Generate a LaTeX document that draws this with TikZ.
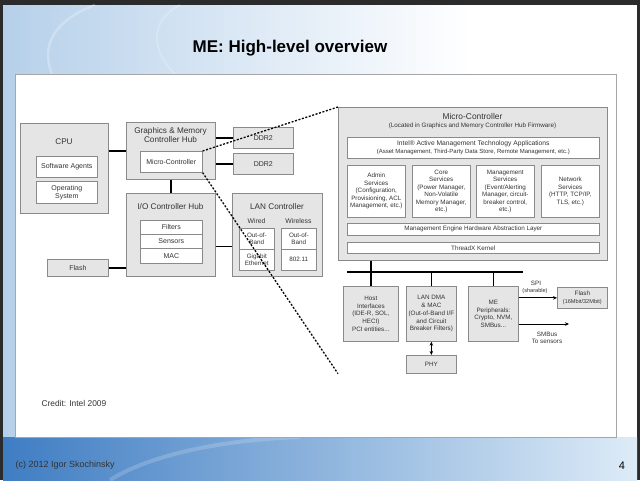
\documentclass[tikz,border=0pt]{standalone}
\usepackage{fontspec}
\setmainfont{Liberation Sans}
\usetikzlibrary{arrows.meta,calc}
\definecolor{frameDk}{HTML}{2B2B2B}
\definecolor{skyA}{HTML}{B6D0EA}
\definecolor{seaA}{HTML}{3F7DC3}
\definecolor{seaM}{HTML}{7FAEDD}
\definecolor{seaB}{HTML}{DDEBF7}
\definecolor{boxFill}{HTML}{E5E5E5}
\definecolor{boxLine}{HTML}{8A8A8A}
\definecolor{inkGray}{HTML}{333333}

\begin{document}
\begin{tikzpicture}[
    x=1pt, y=-1pt,
    >={Stealth[length=4pt,width=3.5pt]},
    blk/.style={draw=boxLine, fill=boxFill, line width=0.7pt, inner sep=0pt,
      anchor=north west, align=center, text=inkGray, font=\fontsize{7}{8}\selectfont},
    sblk/.style={blk, font=\fontsize{6.3}{7.8}\selectfont},
    cell/.style={draw=boxLine, fill=white, line width=0.6pt, inner sep=0pt,
      anchor=north west, align=center, text=inkGray, font=\fontsize{7}{8.2}\selectfont},
    scell/.style={cell, font=\fontsize{6.3}{7.5}\selectfont},
    hd/.style={text=inkGray, inner sep=0pt, align=center, font=\fontsize{8.2}{8.8}\selectfont},
    lbl/.style={text=inkGray, inner sep=0pt, align=center, font=\fontsize{6.3}{7.4}\selectfont},
    link/.style={line width=1.6pt, black},
    bus/.style={line width=1.4pt, black},
    arr/.style={line width=0.8pt, black},
    zoomln/.style={line width=1.3pt, black, dash pattern=on 2pt off 1.6pt},
]
% slide background
\fill[frameDk] (0,0) rectangle (640,480);
\shade[left color=skyA, right color=white] (3,5) rectangle (470,480);
\fill[white] (470,5) rectangle (637,480);
\draw[white, opacity=0.25, line width=2.5pt] (52,74) .. controls (40,45) and (55,20) .. (95,5);
\draw[white, opacity=0.2, line width=2pt] (175,74) .. controls (150,50) and (150,20) .. (180,5);
\shade[left color=seaA, middle color=seaM, right color=seaB] (3,437) rectangle (637,480);
\draw[white, opacity=0.18, line width=4pt] (110,480) .. controls (150,455) and (220,440) .. (300,437);
\draw[draw=black!35, fill=white, line width=0.8pt] (15,74) rectangle (616,437);

\node[font=\bfseries\fontsize{17}{20}\selectfont] (title) at (290,48) {ME: High-level overview};

% host side
\node[blk, minimum width=88, minimum height=90] (cpu) at (20,123) {};
\node[hd] (cpuT) at (64,142) {CPU};
\node[cell, minimum width=61, minimum height=21] (swag) at (36,156) {Software Agents};
\node[cell, minimum width=61, minimum height=22] (os) at (36,181) {Operating\\System};

\node[blk, minimum width=89, minimum height=57] (gmch) at (126,122) {};
\node[hd] (gmchT) at (170.5,135) {Graphics \& Memory\\Controller Hub};
\node[cell, minimum width=62, minimum height=21] (mc) at (140,151) {Micro-Controller};

\node[blk, minimum width=60, minimum height=21] (ddrA) at (233,127) {DDR2};
\node[blk, minimum width=60, minimum height=21] (ddrB) at (233,153) {DDR2};

\node[blk, minimum width=89, minimum height=83] (ioh) at (126,193) {};
\node[hd] (iohT) at (170.5,207) {I/O Controller Hub};
\foreach \nm/\t/\y/\h in {filt/Filters/220/14, sens/Sensors/234/14, mac/MAC/248/15}
  \node[cell, minimum width=62, minimum height=\h] (\nm) at (140,\y) {\t};

\node[blk, minimum width=61, minimum height=17] (flashL) at (47,259) {Flash};

\node[blk, minimum width=90, minimum height=83] (lan) at (232,193) {};
\node[hd] (lanT) at (277,207) {LAN Controller};
\node[lbl, font=\fontsize{6.8}{8}\selectfont] (wired) at (256.5,221) {Wired};
\node[lbl, font=\fontsize{6.8}{8}\selectfont] (wless) at (298.5,221) {Wireless};
\node[scell, minimum width=35, minimum height=21] (wob) at (239,228) {Out-of-\\Band};
\node[scell, minimum width=35, minimum height=21] (wge) at (239,249) {Gigabit\\Ethernet};
\node[scell, minimum width=35, minimum height=21] (lob) at (281,228) {Out-of-\\Band};
\node[scell, minimum width=35, minimum height=21] (l80) at (281,249) {802.11};

\draw[link] (cpu.east |- gmch.west) -- (gmch.west);
\draw[link] (gmch.east |- ddrA.west) -- (ddrA.west);
\draw[link] (gmch.east |- ddrB.west) -- (ddrB.west);
\draw[link] (gmch.south) -- (ioh.north);
\draw[link] (flashL.east) -- (flashL.east -| ioh.west);
\draw[link] ([yshift=-11.5pt]ioh.east) -- ([yshift=-11.5pt]ioh.east -| lan.west);

% ME detail
\node[blk, minimum width=269, minimum height=153] (me) at (338,107) {};
\node[hd, font=\fontsize{8.4}{9}\selectfont] (meT) at (472.5,116) {Micro-Controller};
\node[lbl] (meS) at (472.5,125.5) {(Located in Graphics and Memory Controller Hub Firmware)};
\node[cell, minimum width=252, minimum height=21, font=\fontsize{6.7}{8.4}\selectfont] (amt) at (347,137)
  {Intel® Active Management Technology Applications\\{\fontsize{6}{7}\selectfont(Asset Management, Third-Party Data Store, Remote Management, etc.)}};
\foreach \nm/\x/\t in {adm/347/{Admin\\Services\\(Configuration,\\Provisioning, ACL\\Management, etc.)},
    core/412/{Core\\Services\\(Power Manager,\\Non-Volatile\\Memory Manager,\\etc.)},
    mgmt/476/{Management\\Services\\(Event/Alerting\\Manager, circuit-\\breaker control,\\etc.)},
    net/541/{Network\\Services\\(HTTP, TCP/IP,\\TLS, etc.)}}
  \node[scell, minimum width=58, minimum height=52] (\nm) at (\x,165) {\t};
\node[scell, minimum width=252, minimum height=12] (hal) at (347,223) {Management Engine Hardware Abstraction Layer};
\node[scell, minimum width=252, minimum height=11] (tx) at (347,242) {ThreadX Kernel};

\node[sblk, minimum width=55, minimum height=55] (host) at (343,286) {Host\\Interfaces\\(IDE-R, SOL,\\HECI)\\PCI entities...};
\node[sblk, minimum width=50, minimum height=55] (ldma) at (406,286) {LAN DMA\\\& MAC\\(Out-of-Band I/F\\and Circuit\\Breaker Filters)};
\node[sblk, minimum width=50, minimum height=55] (mep) at (468,286) {ME\\Peripherals:\\Crypto, NVM,\\SMBus...};
\node[sblk, minimum width=50, minimum height=18] (phy) at (406,355) {PHY};
\node[sblk, minimum width=50, minimum height=21] (flR) at (557,287) {Flash\\{\fontsize{5.6}{6}\selectfont(16Mbit/32Mbit)}};

\coordinate (busL) at (347,272);
\coordinate (busR) at (523,272);
\draw[bus] (busL) -- (busR);
\draw[bus] (host.north |- me.south) -- (host.north |- busL);
\foreach \b in {host,ldma,mep}
  \draw[bus] (\b.north) -- (\b.north |- busL);
\draw[arr, <->] (ldma.south) -- (phy.north);
\draw[arr, ->] (mep.east |- flR.west) -- (flR.west);
\node[lbl] (spiT) at (536,283) {SPI};
\node[lbl, font=\fontsize{5.6}{6}\selectfont] (spiS) at (535,291) {(sharable)};
\coordinate (smbEnd) at (569,324);
\draw[arr, ->] (mep.east |- smbEnd) -- (smbEnd);
\node[lbl] (smbT) at (547,334) {SMBus};
\node[lbl] (smbS) at (547,341.5) {To sensors};

% zoom lines
\coordinate (zEnd) at (me.west |- phy.south);
\draw[zoomln] (mc.north east) -- (me.north west);
\draw[zoomln] (mc.south east) -- (zEnd);

\node[anchor=west, text=inkGray, font=\fontsize{8.4}{10}\selectfont] (credit) at (38,403) {Credit: Intel 2009};
\node[anchor=west, text=black!80, font=\fontsize{9}{11}\selectfont] (copy) at (12,465) {(c) 2012 Igor Skochinsky};
\node[font=\fontsize{11}{13}\selectfont] (pgno) at (622,466) {4};
\end{tikzpicture}
\end{document}
